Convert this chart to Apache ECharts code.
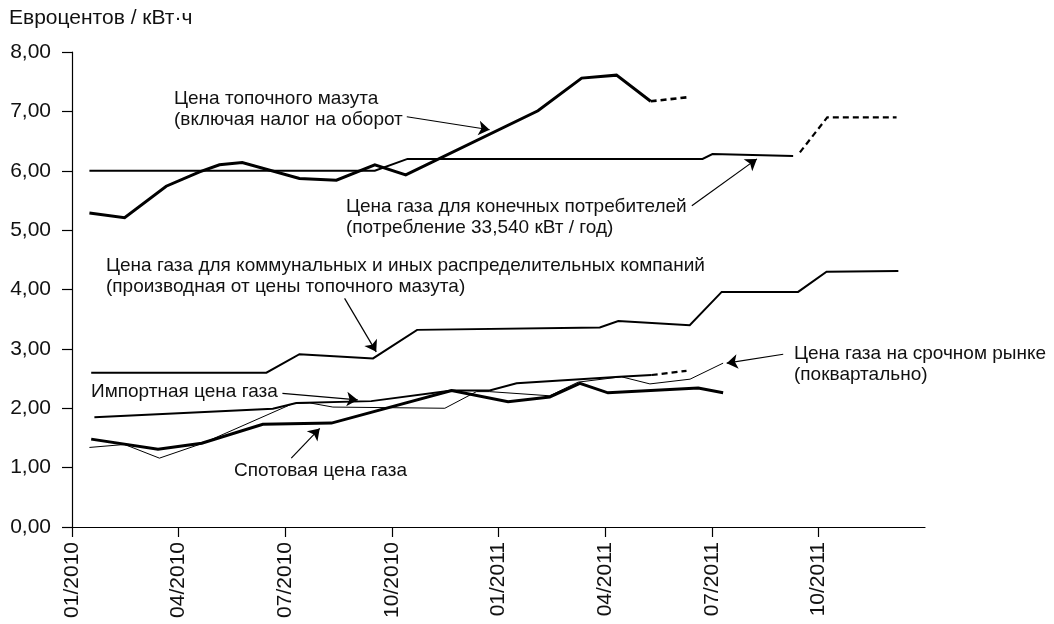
<!DOCTYPE html>
<html><head><meta charset="utf-8">
<script src="https://cdn.jsdelivr.net/npm/echarts@6/dist/echarts.min.js"></script>
<style>html,body{margin:0;padding:0;background:#fff}#c{width:1054px;height:624px}</style>
</head><body><div id="c"></div>
<script>
// x = months since start of January 2010 (0 = 01/2010)
const xTickValues = [0, 3, 6, 9, 12, 15, 18, 21];
const xTickLabels = ['01/2010', '04/2010', '07/2010', '10/2010', '01/2011', '04/2011', '07/2011', '10/2011'];
const yTickLabels = ['0,00', '1,00', '2,00', '3,00', '4,00', '5,00', '6,00', '7,00', '8,00'];

// Цена топочного мазута
const oilSolid = [[0.49,5.29],[1.48,5.21],[2.65,5.74],[3.59,5.98],[4.15,6.10],[4.79,6.14],[6.40,5.87],[7.44,5.84],[8.52,6.10],[9.39,5.93],[13.11,7.01],[14.34,7.56],[15.32,7.61],[16.28,7.17]];
const oilDashed = [[16.28,7.17],[17.34,7.24]];
// Цена газа для конечных потребителей
const consumerSolid = [[0.49,6.00],[8.52,6.00],[9.44,6.20],[17.74,6.20],[18.02,6.28],[20.29,6.25]];
const consumerDashed = [[20.48,6.31],[21.25,6.90],[23.20,6.90]];
// Цена газа для коммунальных и иных распределительных компаний
const municipal = [[0.54,2.60],[5.47,2.60],[6.40,2.91],[8.47,2.84],[9.71,3.32],[14.85,3.36],[15.37,3.47],[17.38,3.40],[18.28,3.96],[20.43,3.96],[21.23,4.30],[23.25,4.31]];
// Импортная цена газа
const importSolid = [[0.63,1.85],[5.65,1.99],[6.31,2.09],[8.42,2.12],[10.68,2.30],[11.75,2.30],[12.51,2.42],[15.41,2.53],[16.31,2.56]];
const importDashed = [[16.31,2.56],[17.29,2.63]];
// Спотовая цена газа
const spot = [[0.54,1.48],[2.42,1.31],[3.65,1.41],[5.37,1.73],[7.30,1.75],[10.68,2.30],[12.27,2.11],[13.44,2.19],[14.29,2.42],[15.08,2.26],[17.62,2.34],[18.32,2.26]];
// Цена газа на срочном рынке (поквартально)
const forward = [[0.49,1.34],[1.48,1.39],[2.46,1.16],[3.68,1.41],[6.22,2.08],[6.69,2.09],[7.34,2.02],[10.49,2.00],[11.38,2.28],[11.75,2.28],[13.44,2.21],[14.24,2.44],[15.46,2.53],[16.26,2.41],[17.39,2.49],[18.32,2.76]];

// annotation arrows: [from, to] in data coordinates
const arrows = [
  [[9.42,6.91],[11.75,6.69]],
  [[17.44,5.41],[19.27,6.20]],
  [[7.67,3.85],[8.56,2.95]],
  [[5.92,2.25],[8.04,2.14]],
  [[6.17,1.16],[6.97,1.66]],
  [[20.01,2.91],[18.42,2.76]]
];

const FONT = '"Liberation Sans", Arial, Helvetica, sans-serif';
const FS = 19;     // annotation font size
const AFS = 21;    // axis font size
const LH = 21;

function line(data, width, dashed) {
  return {
    type: 'line', data: data, symbol: 'none', silent: true, smooth: false,
    lineStyle: { color: '#000', width: width, type: dashed ? [6, 4] : 'solid', cap: 'butt', join: 'miter' }
  };
}

const chart = echarts.init(document.getElementById('c'), null, { renderer: 'canvas' });

function txt(str, x, yCenter, size) {
  return {
    type: 'text', left: x, top: yCenter - LH / 2, silent: true,
    style: { text: str, fill: '#111', fontSize: size || FS, fontFamily: FONT, lineHeight: LH }
  };
}

chart.setOption({
  animation: false,
  backgroundColor: '#fff',
  grid: { left: 72, right: 129, top: 52, bottom: 97, containLabel: false },
  xAxis: {
    type: 'value', min: 0, max: 24,
    splitLine: { show: false },
    axisLine: { show: true, lineStyle: { color: '#000', width: 1.2 } },
    axisTick: { show: true, length: 10, customValues: xTickValues, lineStyle: { color: '#000', width: 1.2 } },
    axisLabel: {
      customValues: xTickValues, rotate: 90, margin: 15,
      color: '#111', fontSize: AFS, fontFamily: FONT,
      formatter: function (v) { const i = xTickValues.indexOf(v); return i >= 0 ? xTickLabels[i] : ''; }
    }
  },
  yAxis: {
    type: 'value', min: 0, max: 8, interval: 1,
    splitLine: { show: false },
    axisLine: { show: true, onZero: false, lineStyle: { color: '#000', width: 1.2 } },
    axisTick: { show: true, length: 10, lineStyle: { color: '#000', width: 1.2 } },
    axisLabel: {
      margin: 21, color: '#111', fontSize: AFS, fontFamily: FONT,
      formatter: function (v) { return yTickLabels[Math.round(v)]; }
    }
  },
  graphic: [
    txt('Евроцентов / кВт·ч', 9, 18, 21),
    txt('Цена топочного мазута\n(включая налог на оборот', 174, 99),
    txt('Цена газа для конечных потребителей\n(потребление 33,540 кВт / год)', 346, 207),
    txt('Цена газа для коммунальных и иных распределительных компаний\n(производная от цены топочного мазута)', 106, 266),
    txt('Импортная цена газа', 91, 392),
    txt('Спотовая цена газа', 234, 471),
    txt('Цена газа на срочном рынке\n(поквартально)', 794, 354)
  ],
  series: [
    line(forward, 1),
    line(importSolid, 2),
    line(importDashed, 2.2, true),
    line(municipal, 2),
    line(consumerSolid, 2),
    line(consumerDashed, 2.2, true),
    line(oilSolid, 3),
    line(oilDashed, 2.6, true),
    line(spot, 3),
    {
      type: 'line', data: [], symbol: 'none', silent: true,
      markLine: {
        silent: true, animation: false,
        symbol: ['none', 'arrow'], symbolSize: 11,
        label: { show: false },
        lineStyle: { color: '#000', width: 1.2, type: 'solid' },
        emphasis: { disabled: true },
        data: arrows.map(function (a) { return [{ coord: a[0] }, { coord: a[1] }]; })
      }
    }
  ]
});
</script></body></html>
